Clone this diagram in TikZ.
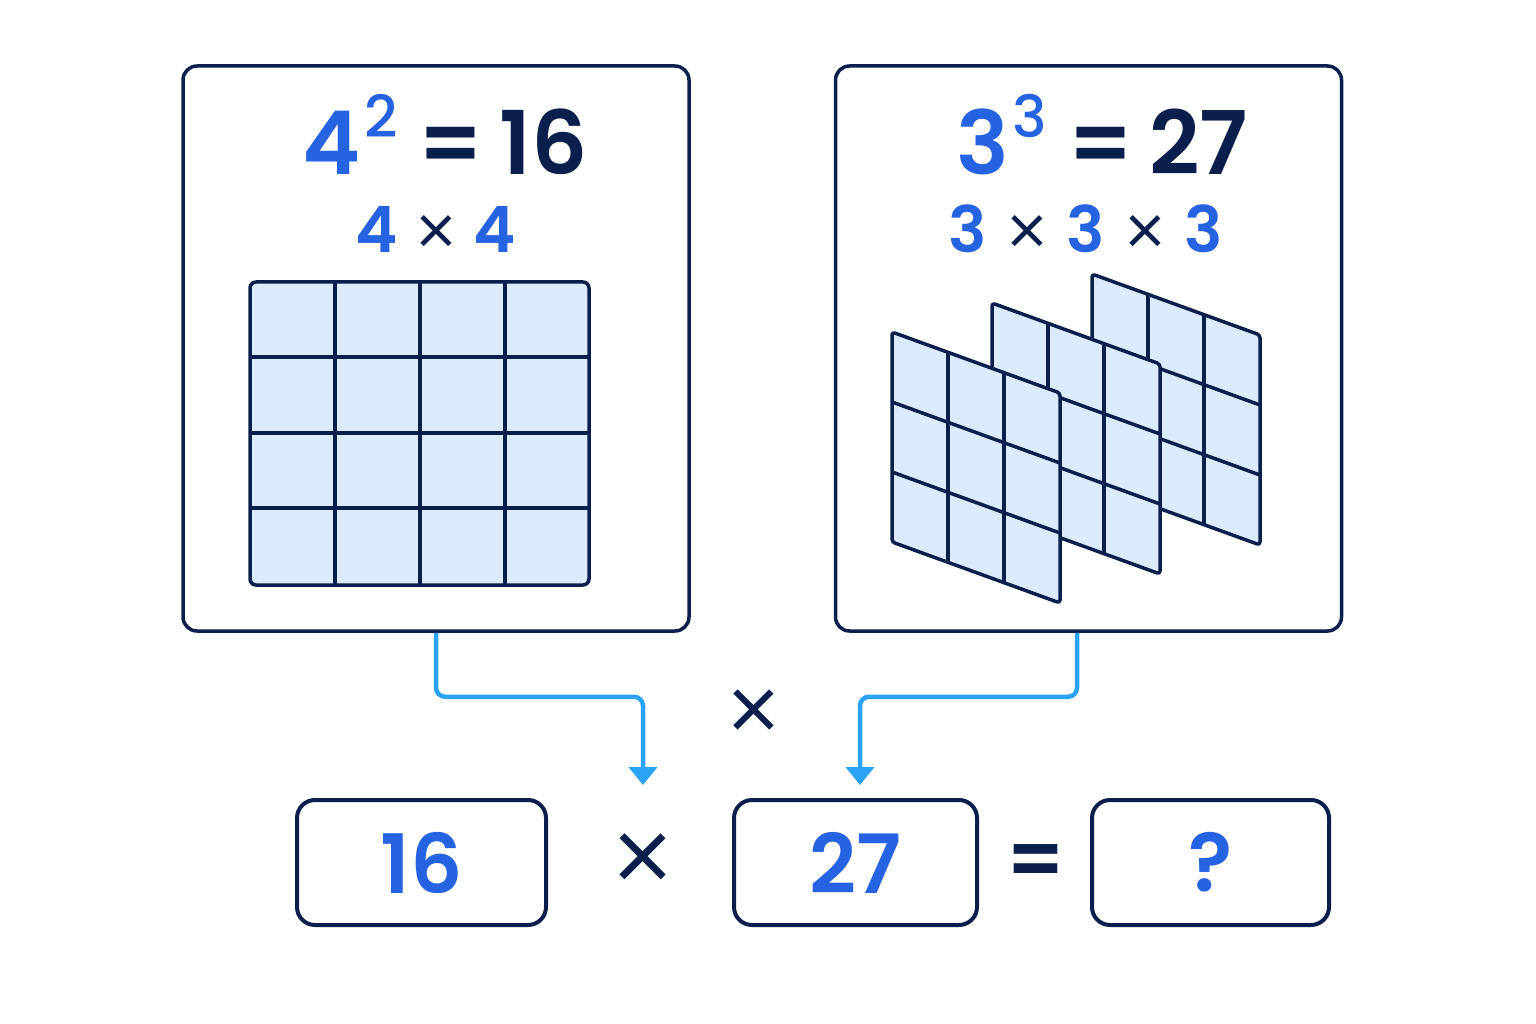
\documentclass[tikz,border=0pt]{standalone}
\usepackage{fontspec}
\setmainfont{Poppins}[BoldFont={Poppins SemiBold}]
\newfontfamily\medfont{Poppins Medium}
\newfontfamily\lightfont{Poppins Light}
\usepackage{tikz}
\usetikzlibrary{arrows.meta, positioning, calc}
\usepackage{xcolor}
\definecolor{navy}{HTML}{0B1F4D}
\definecolor{numblue}{HTML}{2563E0}
\definecolor{flowblue}{HTML}{2BA3F4}
\definecolor{cellfill}{HTML}{DCEBFB}
\newcommand{\thintimes}{\raisebox{-6pt}{\textcolor{navy}{\lightfont\mdseries\fontsize{74}{74}\selectfont ×}}}

\begin{document}
\begin{tikzpicture}[
    x=1pt, y=-1pt,
    panel/.style={rectangle, draw=navy, line width=3.5pt, rounded corners=14pt, minimum width=506pt, minimum height=565pt},
    resbox/.style={rectangle, draw=navy, line width=4pt, rounded corners=18pt, minimum height=125pt, text=numblue, font=\fontsize{82}{82}\selectfont\bfseries},
    cellline/.style={draw=navy, line width=3.5pt, line join=round},
    flow/.style={draw=flowblue, line width=4.5pt, rounded corners=9pt, -{Triangle[length=18pt, width=28pt]}},
    op/.style={text=navy, inner sep=0pt, font=\lightfont\fontsize{100}{100}\selectfont},
    title/.style={anchor=base, text=navy, inner sep=0pt, font=\fontsize{88}{88}\selectfont\bfseries},
    prod/.style={anchor=base, text=numblue, inner sep=0pt, font=\fontsize{64}{64}\selectfont\bfseries}
]
    \useasboundingbox (0,0) rectangle (1536,1024);

    % Two panels
    \node[panel] (sq) at (436,348.5) {};
    \node[panel] (cube) at (1088.5,348.5) {};

    % Panel titles
    \node[title] (sqtitle) at (445,175) {\textcolor{numblue}{4\hspace{4pt}\raisebox{37pt}{\medfont\mdseries\fontsize{58}{58}\selectfont 2}}\hspace{21pt}=\hspace{16pt}16};
    \node[title] (cubetitle) at (1102,175) {\textcolor{numblue}{3\hspace{4pt}\raisebox{37pt}{\medfont\mdseries\fontsize{58}{58}\selectfont 3}}\hspace{21pt}=\hspace{16pt}27};

    % Products
    \node[prod] (sqprod) at (436,253) {4\hspace{16pt}\thintimes\hspace{16pt}4};
    \node[prod] (cubeprod) at (1086,253) {3\hspace{18pt}\thintimes\hspace{18pt}3\hspace{18pt}\thintimes\hspace{18pt}3};

    % 4 x 4 grid
    \filldraw[cellline, fill=cellfill, rounded corners=6pt] (250,282) rectangle (589,585);
    \foreach \x in {335,420,505} {
        \draw[cellline] (\x,282) -- (\x,585);
    }
    \foreach \y in {357,433,508} {
        \draw[cellline] (250,\y) -- (589,\y);
    }

    % Three 3 x 3 layers, back to front
    \foreach \k in {2,1,0} {
        \begin{scope}[shift={(892+100*\k, 332-29*\k)}]
            \filldraw[cellline, fill=cellfill, rounded corners=3pt] (0,0) -- (168,61) -- (168,271) -- (0,210) -- cycle;
            \foreach \t in {1,2} {
                \draw[cellline] (56*\t, 20.33*\t) -- ++(0,210);
                \draw[cellline] (0, 70*\t) -- ++(168,61);
            }
        \end{scope}
    }

    % Middle operator
    \node[op, font=\lightfont\fontsize{96}{96}\selectfont] (midtimes) at (754,718) {×};

    % Bottom row
    \node[resbox, minimum width=249pt] (sqval) at (421.5,862.5) {16};
    \node[op, font=\lightfont\fontsize{110}{110}\selectfont] (times) at (643,866) {×};
    \node[resbox, minimum width=243pt] (cubeval) at (855.5,862.5) {27};
    \node[op, font=\fontsize{80}{80}\selectfont\bfseries] (eq) at (1036,866) {=};
    \node[resbox, minimum width=237pt] (result) at (1210.5,862.5) {?};

    % Connectors
    \coordinate (ltip) at (643,785);
    \coordinate (rtip) at (860,785);
    \draw[flow] (sq.south) -- ++(0,64) -| (ltip);
    \draw[flow] ([xshift=-11.5pt]cube.south) -- ++(0,64) -| (rtip);

\end{tikzpicture}
\end{document}
